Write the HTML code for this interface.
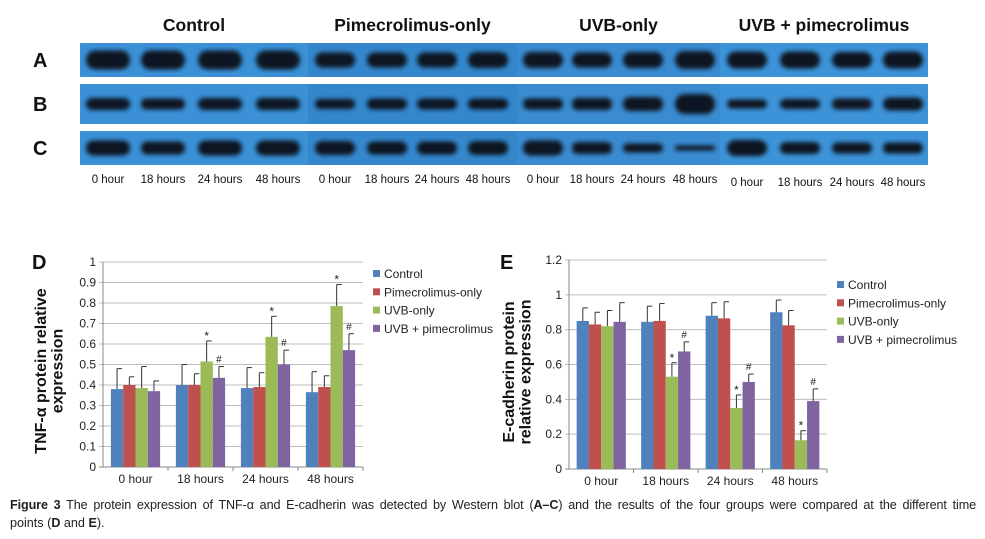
<!DOCTYPE html>
<html><head><meta charset="utf-8"><style>
body{margin:0;background:#fff;width:985px;height:539px;overflow:hidden;font-family:"Liberation Sans",sans-serif}
svg{position:absolute;left:0;top:0}
.cap{position:absolute;left:10px;top:496px;width:966px;font-size:12.6px;line-height:18px;color:#222}
.cap .l1{text-align:justify;text-align-last:justify;white-space:nowrap;letter-spacing:-0.1px}
</style></head><body>
<svg width="985" height="539">
<defs><filter id="bl" x="-30%" y="-80%" width="160%" height="260%"><feGaussianBlur stdDeviation="2.2"/></filter></defs>
<g id="blot"></g>
<g id="chartD"></g>
<g id="chartE"></g>
</svg>
<div class="cap"><div class="l1"><b>Figure 3</b> The protein expression of TNF-α and E-cadherin was detected by Western blot (<b>A–C</b>) and the results of the four groups were compared at the different time</div><div>points (<b>D</b> and <b>E</b>).</div></div>
<script>
const NS="http://www.w3.org/2000/svg";
function mk(p,t,a,txt){const e=document.createElementNS(NS,t);for(const k in a)e.setAttribute(k,a[k]);if(txt!==undefined)e.textContent=txt;p.appendChild(e);return e;}
const categories=["0 hour","18 hours","24 hours","48 hours"];
const seriesNames=["Control","Pimecrolimus-only","UVB-only","UVB + pimecrolimus"];
const colors=["#4f81bd","#c0504d","#9bbb59","#8064a2"];
const dControl=[0.38,0.40,0.385,0.365];
const dPime=[0.40,0.40,0.39,0.39];
const dUVB=[0.385,0.515,0.635,0.785];
const dCombo=[0.37,0.435,0.50,0.57];
const dErrControl=[0.10,0.10,0.10,0.10];
const dErrPime=[0.04,0.055,0.07,0.055];
const dErrUVB=[0.105,0.10,0.10,0.105];
const dErrCombo=[0.05,0.055,0.07,0.08];
const dTicks=[0,0.1,0.2,0.3,0.4,0.5,0.6,0.7,0.8,0.9,1];
const eControl=[0.85,0.845,0.88,0.90];
const ePime=[0.83,0.85,0.865,0.825];
const eUVB=[0.82,0.53,0.35,0.165];
const eCombo=[0.845,0.675,0.50,0.39];
const eErrControl=[0.075,0.09,0.075,0.07];
const eErrPime=[0.07,0.10,0.095,0.085];
const eErrUVB=[0.09,0.08,0.075,0.055];
const eErrCombo=[0.11,0.055,0.045,0.07];
const eTicks=[0,0.2,0.4,0.6,0.8,1,1.2];

function chart(g,o){
  const y=v=>o.y0-(v/o.max)*(o.y0-o.y1);
  const cw=(o.x1-o.x0)/categories.length;
  o.ticks.forEach(t=>{
    const l=mk(g,"line",{x1:o.x0-4,x2:o.x1,y1:y(t),y2:y(t),stroke:t===0?"#888":"#bdbdbd","stroke-width":1});
    
    
    const tx=mk(g,"text",{x:o.x0-7,y:y(t)+4,"text-anchor":"end","font-size":12,fill:"#222"},String(t));
    
    
  });
  mk(g,"line",{x1:o.x0,x2:o.x0,y1:o.y1,y2:o.y0,stroke:"#888"});
  categories.forEach((c,i)=>{
    mk(g,"line",{x1:o.x0+cw*(i+1),x2:o.x0+cw*(i+1),y1:o.y0,y2:o.y0+4,stroke:"#888"});
    const tx=mk(g,"text",{x:o.x0+cw*(i+.5),y:o.y0+16,"text-anchor":"middle","font-size":12,fill:"#222"},c);
    
    
    const bw=12.3,start=o.x0+cw*(i+.5)-bw*2;
    o.series.forEach((s,j)=>{
      const v=s[i],e=o.errs[j][i],bx=start+bw*j;
      const r=mk(g,"rect",{x:bx,y:y(v),width:bw,height:o.y0-y(v),fill:colors[j]});
      
      
      mk(g,"line",{x1:bx+bw/2,x2:bx+bw/2,y1:y(v),y2:y(v+e),stroke:"#333","stroke-width":1});
      mk(g,"line",{x1:bx+bw/2,x2:bx+bw/2+5,y1:y(v+e),y2:y(v+e),stroke:"#333","stroke-width":1});
      if(j>=2&&i>0){
        const m=mk(g,"text",{x:bx+bw/2,y:y(v+e)-4+(j==2?3:0),"text-anchor":"middle","font-size":j==2?12:10,fill:"#222"},j==2?"*":"#");
        
        
      }
    });
  });
  seriesNames.forEach((n,j)=>{
    const ly=o.ly+j*18.3;
    mk(g,"rect",{x:o.lx,y:ly-4,width:7,height:7,fill:colors[j]});
    const t=mk(g,"text",{x:o.lx+11,y:ly+4,"font-size":12,fill:"#222"},n);
    
    
  });
  const tl=mk(g,"text",{transform:`translate(${o.tx},${o.ty}) rotate(-90)`,"text-anchor":"middle","font-size":16,"font-weight":"bold",fill:"#111"});
  
  
  mk(tl,"tspan",{x:0,y:0},o.t1);mk(tl,"tspan",{x:0,y:16.5},o.t2);
  const L=mk(g,"text",{x:o.Lx,y:269,"font-size":20,"font-weight":"bold",fill:"#111"},o.L);
  
  
}
chart(document.getElementById("chartD"),{x0:103,x1:363,y0:467,y1:262,max:1,ticks:dTicks,series:[dControl,dPime,dUVB,dCombo],errs:[dErrControl,dErrPime,dErrUVB,dErrCombo],lx:373,ly:274,tx:46,ty:371,t1:"TNF-α protein relative",t2:"expression",L:"D",Lx:32});
chart(document.getElementById("chartE"),{x0:569,x1:827,y0:469,y1:260,max:1.2,ticks:eTicks,series:[eControl,ePime,eUVB,eCombo],errs:[eErrControl,eErrPime,eErrUVB,eErrCombo],lx:837,ly:285,tx:514,ty:372,t1:"E-cadherin protein",t2:"relative expression",L:"E",Lx:500});

const blot=document.getElementById("blot");
const groups=["Control","Pimecrolimus-only","UVB-only","UVB + pimecrolimus"];
const groupX=[80,308,517,720,928];
const laneX=[[108,163,220,278],[335,387,437,488],[543,592,643,695],[747,800,852,903]];
const laneNames=["0 hour","18 hours","24 hours","48 hours"];
const rows=[{l:"A",y:43,h:34},{l:"B",y:84,h:40},{l:"C",y:131,h:34}];
const bandH=[[[19,19,19,19],[15,15,15,16],[16,15,16,18],[17,17,16,17]],
  [[12,11,12,12],[10,11,11,11],[11,12,14,20],[9,10,11,13]],
  [[15,13,15,15],[14,13,13,14],[15,12,9,5],[16,12,11,11]]];
groups.forEach((gname,gi)=>{
  const t=mk(blot,"text",{x:(groupX[gi]+groupX[gi+1])/2,y:31,"text-anchor":"middle","font-size":17.5,"font-weight":"bold",fill:"#111"},gname);
  
  
  laneX[gi].forEach((x,li)=>{
    const lb=mk(blot,"text",{x:x,y:gi==3?186:183,"text-anchor":"middle","font-size":11.5,fill:"#111"},laneNames[li]);
    
    
  });
});
rows.forEach((r,ri)=>{
  const lab=mk(blot,"text",{x:33,y:r.y+r.h/2+7,"font-size":20,"font-weight":"bold",fill:"#111"},r.l);
  
  
  groups.forEach((g,gi)=>{
    const s=mk(blot,"rect",{x:groupX[gi],y:r.y,width:groupX[gi+1]-groupX[gi],height:r.h,fill:["#3b90d6","#3587cc","#3a8bd0","#3d93d8"][gi]});
    
    
    laneX[gi].forEach((x,li)=>{
      const h=bandH[ri][gi][li],w=gi==0?44:40;
      mk(blot,"rect",{x:x-w/2,y:r.y+r.h/2-h/2,width:w,height:h,rx:h/2,fill:"#0b1420",filter:"url(#bl)"});
    });
  });
});
</script>
</body></html>
